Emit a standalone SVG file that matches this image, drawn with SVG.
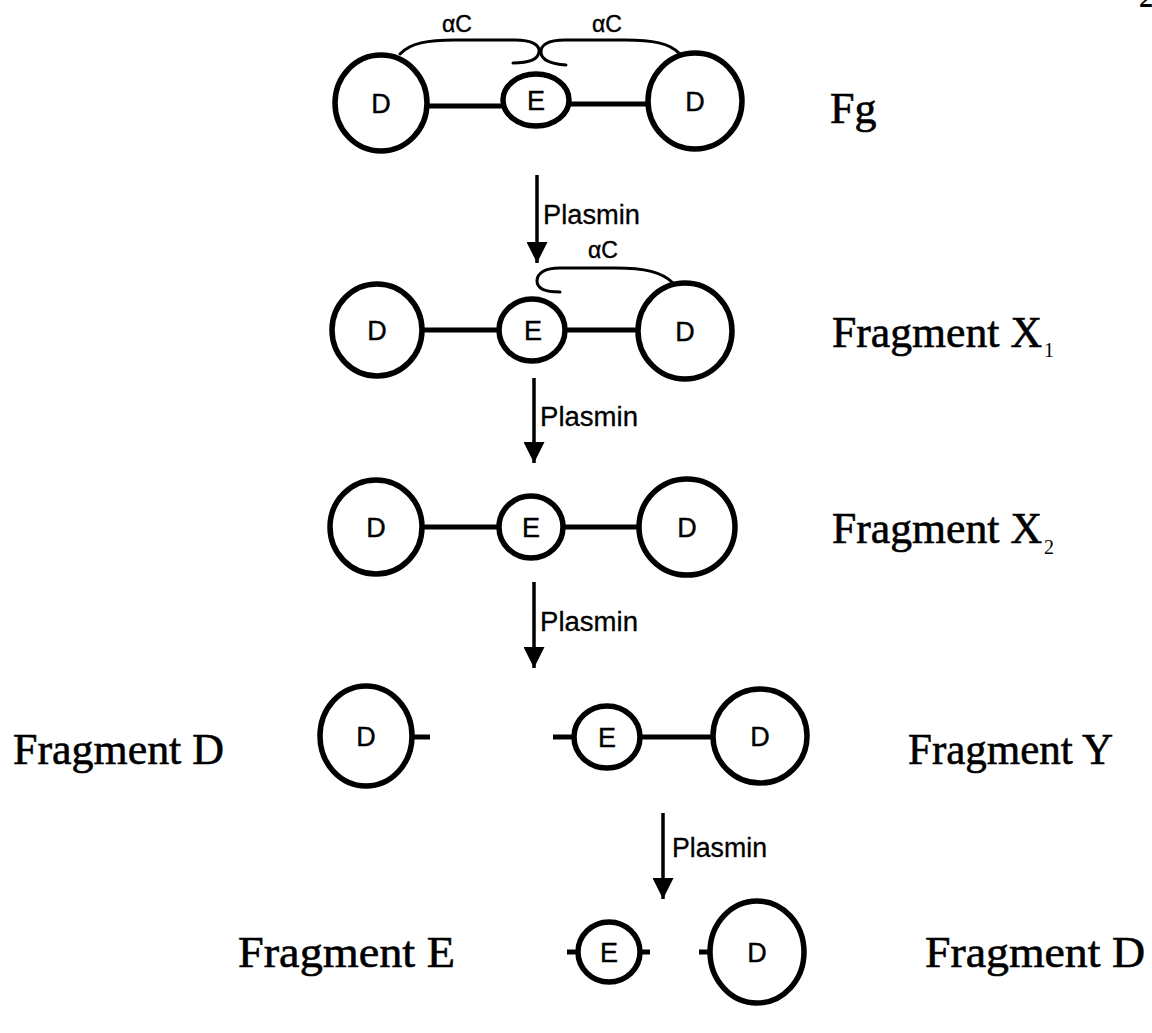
<svg xmlns="http://www.w3.org/2000/svg" width="1152" height="1033" viewBox="0 0 1152 1033">
<defs>
<style>
.dom{fill:none;stroke:#000;stroke-width:5.5}
.link{fill:none;stroke:#000;stroke-width:5}
.ac{fill:none;stroke:#000;stroke-width:3;stroke-linecap:round}
.arr{fill:none;stroke:#000;stroke-width:3.5}
.in{font-family:"Liberation Sans",Arial,sans-serif;font-size:27px;text-anchor:middle;fill:#000;stroke:#000;stroke-width:0.4}
.pl{font-family:"Liberation Sans",Arial,sans-serif;font-size:27px;fill:#000;stroke:#000;stroke-width:0.3}
.lab{font-family:"Liberation Serif","Times New Roman",serif;font-size:44px;fill:#000;stroke:#000;stroke-width:0.6}
.sub{font-family:"Liberation Serif","Times New Roman",serif;font-size:20px;fill:#000}
</style>
<marker id="ah" viewBox="0 0 10 10" refX="10" refY="5" markerWidth="6" markerHeight="6" orient="auto" markerUnits="strokeWidth">
<path d="M0,0 L10,5 L0,10 Z" fill="#000"/>
</marker>
</defs>
<rect width="1152" height="1033" fill="#fff"/>
<text x="1139" y="7" style="font-family:'Liberation Serif',serif;font-size:28px;font-weight:bold">2</text>

<g id="connectors">
<line class="arr" x1="537" y1="175" x2="537" y2="263" marker-end="url(#ah)"/>
<text class="pl" x="543" y="224" textLength="97" lengthAdjust="spacingAndGlyphs">Plasmin</text>
<line class="arr" x1="534" y1="378" x2="534" y2="463" marker-end="url(#ah)"/>
<text class="pl" x="540" y="426" textLength="98" lengthAdjust="spacingAndGlyphs">Plasmin</text>
<line class="arr" x1="534" y1="582" x2="534" y2="668" marker-end="url(#ah)"/>
<text class="pl" x="540" y="631" textLength="98" lengthAdjust="spacingAndGlyphs">Plasmin</text>
<line class="arr" x1="663" y1="813" x2="663" y2="899" marker-end="url(#ah)"/>
<text class="pl" x="672" y="857" textLength="95" lengthAdjust="spacingAndGlyphs">Plasmin</text>
</g>

<g id="fg">
<line class="link" x1="428" y1="106" x2="502" y2="106"/>
<line class="link" x1="570" y1="104" x2="648" y2="104"/>
<ellipse class="dom" cx="381" cy="103" rx="46" ry="48"/>
<text class="in" x="381" y="113">D</text>
<ellipse class="dom" cx="536" cy="100" rx="33" ry="26"/>
<text class="in" x="536" y="110">E</text>
<ellipse class="dom" cx="695" cy="101" rx="47" ry="48"/>
<text class="in" x="695" y="111">D</text>
<path class="ac" d="M400,54 C410,43 428,40 455,40 L515,40 C532,40 540,45 539,52 C538,60 528,63 513,63"/>
<path class="ac" d="M680,54 C670,43 652,40 625,40 L565,40 C548,40 540,45 541,53 C542,61 552,64 566,65"/>
<text class="in" x="457" y="32" style="font-size:23px">αC</text>
<text class="in" x="607" y="32" style="font-size:23px">αC</text>
<text class="lab" x="830" y="123">Fg</text>
</g>

<g id="fragment-x1">
<line class="link" x1="423" y1="330" x2="497" y2="330"/>
<line class="link" x1="566" y1="330" x2="638" y2="330"/>
<ellipse class="dom" cx="377" cy="330" rx="45" ry="46"/>
<text class="in" x="377" y="340">D</text>
<ellipse class="dom" cx="532" cy="330" rx="33" ry="31"/>
<text class="in" x="533" y="340">E</text>
<ellipse class="dom" cx="685" cy="331" rx="47" ry="48"/>
<text class="in" x="685" y="341">D</text>
<path class="ac" d="M673,283 C662,272 645,268 615,268 L560,268 C545,268 537,273 537,281 C537,289 547,292 560,292"/>
<text class="in" x="603" y="258" style="font-size:23px">αC</text>
<text class="lab" x="832" y="347" textLength="210" lengthAdjust="spacingAndGlyphs">Fragment X</text>
<text class="sub" x="1044" y="357">1</text>
</g>

<g id="fragment-x2">
<line class="link" x1="423" y1="527" x2="499" y2="527"/>
<line class="link" x1="563" y1="527" x2="639" y2="527"/>
<ellipse class="dom" cx="376" cy="527" rx="46" ry="47"/>
<text class="in" x="376" y="537">D</text>
<ellipse class="dom" cx="531" cy="527" rx="32" ry="31"/>
<text class="in" x="531" y="537">E</text>
<ellipse class="dom" cx="687" cy="527" rx="48" ry="48"/>
<text class="in" x="687" y="537">D</text>
<text class="lab" x="832" y="543" textLength="210" lengthAdjust="spacingAndGlyphs">Fragment X</text>
<text class="sub" x="1044" y="554">2</text>
</g>

<g id="fragment-d-left">
<ellipse class="dom" cx="366" cy="736" rx="46" ry="50"/>
<line class="link" x1="411" y1="737" x2="430" y2="737"/>
<text class="in" x="366" y="746">D</text>
<text class="lab" x="13" y="764" textLength="211" lengthAdjust="spacingAndGlyphs">Fragment D</text>
</g>

<g id="fragment-y">
<line class="link" x1="553" y1="737" x2="575" y2="737"/>
<line class="link" x1="640" y1="737" x2="714" y2="737"/>
<ellipse class="dom" cx="607" cy="737" rx="33" ry="31"/>
<text class="in" x="607" y="747">E</text>
<ellipse class="dom" cx="760" cy="736" rx="47" ry="47"/>
<text class="in" x="760" y="746">D</text>
<text class="lab" x="908" y="764" textLength="205" lengthAdjust="spacingAndGlyphs">Fragment Y</text>
</g>

<g id="fragment-e">
<line class="link" x1="567" y1="952" x2="578" y2="952"/>
<line class="link" x1="639" y1="952" x2="650" y2="952"/>
<ellipse class="dom" cx="609" cy="952" rx="31" ry="30"/>
<text class="in" x="609" y="962">E</text>
<text class="lab" x="238" y="967" textLength="217" lengthAdjust="spacingAndGlyphs">Fragment E</text>
</g>

<g id="fragment-d-right">
<line class="link" x1="699" y1="952" x2="711" y2="952"/>
<ellipse class="dom" cx="757" cy="952" rx="47" ry="51"/>
<text class="in" x="757" y="962">D</text>
<text class="lab" x="925" y="967" textLength="220" lengthAdjust="spacingAndGlyphs">Fragment D</text>
</g>
</svg>
